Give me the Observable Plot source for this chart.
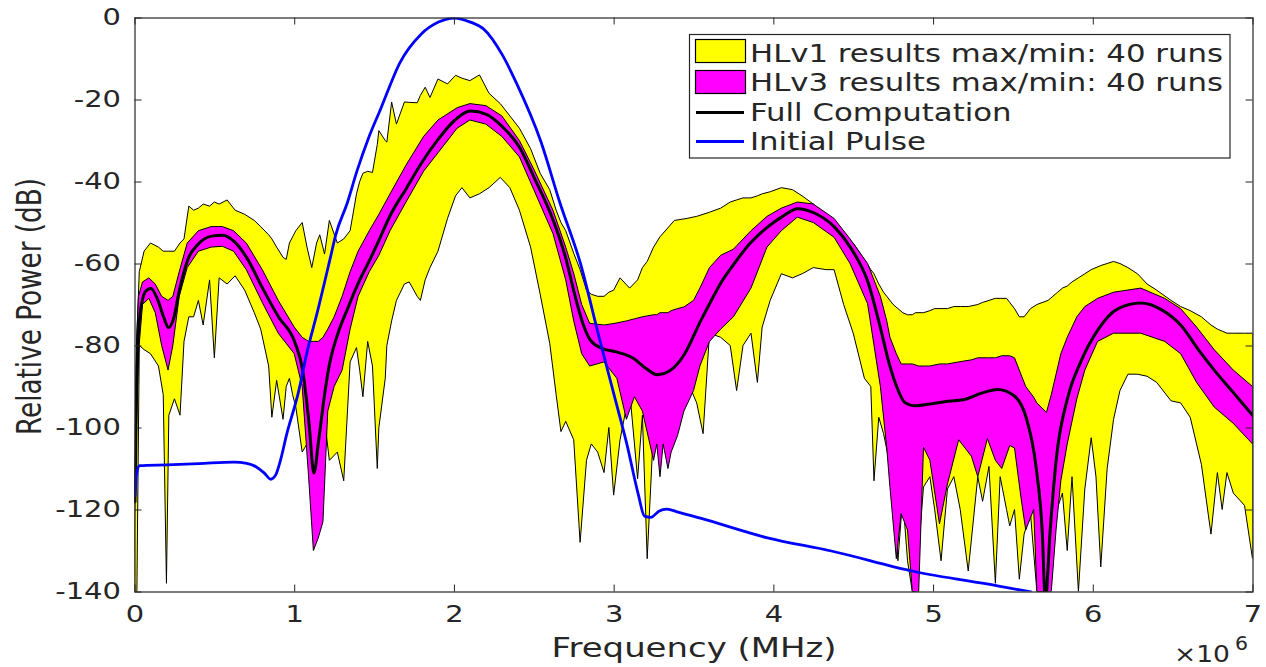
<!DOCTYPE html>
<html>
<head>
<meta charset="utf-8">
<script src="https://cdn.jsdelivr.net/npm/d3@7"></script>
<script src="https://cdn.jsdelivr.net/npm/@observablehq/plot@0.6"></script>
<style>
  html, body { margin: 0; padding: 0; background: #fff; }
  #chart { position: relative; width: 1266px; height: 667px; }
  #chart svg { display: block; }
</style>
</head>
<body>
<div id="chart"></div>
<script>
// Axis ticks and labels
const xTicks = [0, 1, 2, 3, 4, 5, 6, 7];
const yTicks = [-140, -120, -100, -80, -60, -40, -20, 0];
const xLabel = "Frequency (MHz)";
const yLabel = "Relative Power (dB)";
const xExponent = "6";
const legendLabels = [
  "HLv1 results max/min: 40 runs",
  "HLv3 results max/min: 40 runs",
  "Full Computation",
  "Initial Pulse"
];

// HLv1 envelope over 40 runs: [frequency MHz, max dB, min dB]
const hlv1Band = [
  [0.000,-125,-140],[0.015,-77,-140],[0.03,-62,-80],[0.06,-57,-81],[0.10,-55,-82],
  [0.15,-56,-85],[0.18,-57,-92],[0.20,-57,-138],[0.215,-57,-97],[0.25,-57,-93],
  [0.285,-55,-97],[0.31,-54,-79],[0.34,-46,-73],[0.37,-47,-73],[0.40,-46.5,-69],
  [0.43,-45.5,-75],[0.47,-46,-64],[0.50,-45,-83],[0.53,-45.5,-63.5],[0.58,-44.5,-65],
  [0.63,-47,-63],[0.69,-48,-66.5],[0.75,-49.5,-72],[0.79,-51,-76],[0.84,-53,-85],
  [0.86,-54,-97.5],[0.89,-56,-88.5],[0.93,-58.5,-98],[0.95,-59,-90],[0.97,-55,-88],
  [0.99,-53.5,-92],[1.01,-52,-95],[1.05,-50,-106],[1.08,-56,-104],[1.11,-61,-106],
  [1.14,-55,-106],[1.16,-53,-104],[1.19,-57.7,-98],[1.22,-49.5,-108],[1.27,-55,-106],
  [1.31,-54,-113],[1.35,-52,-84],[1.39,-43,-80.5],[1.41,-40,-86],[1.43,-38,-92.5],
  [1.46,-37.5,-79],[1.49,-37.8,-85],[1.52,-31,-110],[1.53,-27.6,-100],[1.57,-30,-88],
  [1.58,-30.4,-80],[1.61,-20.6,-74],[1.64,-26,-69],[1.69,-20.6,-65],[1.72,-20.7,-64.5],
  [1.77,-20.8,-68],[1.79,-19,-69],[1.82,-17,-64],[1.85,-19.5,-61],[1.90,-15,-57],
  [1.96,-16.2,-49],[2.01,-14.1,-43.5],[2.05,-14.8,-41.5],[2.10,-15.4,-44],[2.16,-14,-43],
  [2.22,-18.5,-41.5],[2.29,-21,-39],[2.35,-24,-41.5],[2.41,-27,-47],[2.48,-32,-56],
  [2.54,-38,-67.5],[2.60,-42,-79.5],[2.64,-47,-92],[2.67,-50,-101],[2.70,-52,-98.5],
  [2.75,-57.5,-103],[2.79,-61.5,-128],[2.83,-66.5,-108],[2.86,-67.5,-104],[2.90,-68,-106],
  [2.94,-68,-111],[2.97,-67,-100],[3.00,-66.5,-116.5],[3.04,-63.5,-103],[3.10,-66,-91],
  [3.15,-64,-112.5],[3.18,-61,-97],[3.21,-59.5,-132],[3.25,-56,-100],[3.29,-53.5,-104],
  [3.38,-49.5,-100],[3.46,-49,-88.5],[3.52,-48.5,-94],[3.56,-48,-101.5],[3.60,-47.5,-77],
  [3.67,-46.5,-78],[3.73,-45,-80],[3.77,-44.5,-91],[3.81,-44,-80],[3.86,-44,-77],
  [3.90,-43.5,-89],[3.93,-43,-75.5],[3.98,-42.5,-69],[4.05,-41.5,-62.5],[4.12,-42,-63.5],
  [4.18,-43.5,-62.5],[4.25,-45.5,-61],[4.33,-48,-61.5],[4.38,-50,-61.5],[4.44,-53,-70],
  [4.50,-55,-77],[4.57,-59,-88],[4.61,-61.5,-90],[4.63,-62.5,-113],[4.66,-65,-97.5],
  [4.69,-67,-101.5],[4.75,-70,-113],[4.78,-71,-132.5],[4.81,-72,-117],[4.84,-72.5,-132.5],
  [4.87,-72.5,-140],[4.89,-72,-140],[4.94,-72,-114.5],[4.98,-71.5,-112],[5.01,-71,-120],
  [5.05,-71,-132.5],[5.09,-71,-115],[5.13,-70.5,-112],[5.17,-70.5,-120],[5.22,-70.5,-135],
  [5.28,-70,-112],[5.31,-69.5,-118],[5.35,-69,-109.5],[5.39,-68.5,-138],[5.42,-68.5,-112],
  [5.46,-68.5,-120],[5.48,-69.5,-124],[5.51,-71,-120],[5.54,-73,-137],[5.57,-73,-126],
  [5.61,-71,-121],[5.65,-70,-140],[5.72,-69,-140],[5.75,-68,-125],[5.78,-67,-119.5],
  [5.81,-66,-116],[5.84,-65.5,-130],[5.87,-64.5,-112],[5.91,-63.5,-140],[5.95,-62.5,-115],
  [5.99,-61.5,-102.5],[6.02,-61,-112],[6.05,-60.5,-134],[6.09,-60,-110],[6.13,-59.5,-98],
  [6.17,-60,-91],[6.22,-61,-87],[6.28,-62.5,-87],[6.34,-65,-87.5],[6.40,-66.5,-89],
  [6.49,-69,-93.5],[6.55,-70.5,-94],[6.61,-71.5,-97.5],[6.68,-73,-109],[6.74,-75,-126],
  [6.78,-76,-111],[6.81,-76.5,-120],[6.84,-77,-111],[6.88,-77,-116],[6.95,-77,-119],
  [7.00,-77,-132]
];

// HLv3 envelope over 40 runs: [frequency MHz, max dB, min dB]
const hlv3Band = [
  [0.000,-118,-118],[0.012,-80,-100],[0.025,-68,-82],[0.05,-64.5,-70],[0.09,-63.5,-68.5],
  [0.13,-65,-72],[0.17,-68,-80],[0.21,-69,-86],[0.24,-68,-80],[0.28,-62,-68],
  [0.33,-55,-61],[0.40,-52,-57],[0.48,-51,-56],[0.55,-51,-55.8],[0.62,-52,-57],
  [0.70,-55,-61.5],[0.80,-61.5,-69.5],[0.90,-69,-77],[1.00,-75.5,-82],[1.05,-78,-90],
  [1.09,-79,-112],[1.12,-79,-130],[1.15,-79,-127],[1.18,-78,-123],[1.21,-76,-96],
  [1.25,-73,-90],[1.30,-68,-86],[1.35,-62,-76],[1.40,-57,-68],[1.47,-52,-62],
  [1.53,-48,-58],[1.60,-43,-52],[1.70,-36,-45],[1.81,-29,-37.5],[1.90,-25,-33],
  [2.02,-22,-27],[2.10,-21,-25],[2.20,-21.5,-26],[2.30,-24,-29],[2.41,-30,-34],
  [2.50,-37,-42],[2.62,-47,-52.7],[2.70,-56,-64],[2.75,-62.4,-74],[2.80,-70,-82],
  [2.85,-74.6,-85],[2.94,-75,-84],[3.02,-74.5,-88],[3.08,-74,-98],[3.13,-73.5,-92.5],
  [3.18,-73,-96],[3.25,-72.5,-108],[3.27,-72.5,-104],[3.29,-72,-112],[3.31,-72,-104],
  [3.34,-72,-110],[3.36,-71.5,-106],[3.40,-71,-102],[3.44,-70.6,-96],[3.50,-69,-91],
  [3.54,-66,-85],[3.60,-61,-79],[3.67,-58,-76],[3.75,-56.5,-73],[3.86,-52,-66],
  [3.96,-48.5,-56],[4.05,-46.5,-52],[4.15,-45,-48.7],[4.25,-45.5,-50],[4.38,-49,-53.6],
  [4.48,-54,-60],[4.59,-60,-69.8],[4.67,-68,-90],[4.71,-74,-105],[4.73,-78,-114.6],
  [4.77,-82,-132],[4.80,-84.5,-121],[4.84,-84.5,-125],[4.87,-84.5,-140],[4.91,-85,-140],
  [4.94,-85,-104.8],[4.98,-85,-108],[5.04,-84.5,-123.5],[5.09,-84.5,-113.8],[5.16,-84,-103],
  [5.24,-83.5,-107],[5.28,-83,-112],[5.34,-83,-102.7],[5.39,-83,-108],[5.43,-82.5,-110],
  [5.48,-82.5,-104.4],[5.51,-83,-105],[5.55,-87,-117],[5.58,-90,-125],[5.63,-92.6,-120],
  [5.65,-94,-140],[5.71,-96.3,-140],[5.74,-92,-140],[5.77,-87,-125],[5.80,-82,-113],
  [5.84,-78,-104],[5.90,-73,-93],[5.95,-70.5,-86],[6.03,-68.5,-79],[6.13,-67,-77],
  [6.30,-66,-77],[6.45,-68.5,-79],[6.55,-71,-82],[6.65,-75.5,-89],[6.76,-81,-95],
  [6.88,-86,-99],[7.00,-90,-104]
];

// Full computation: [frequency MHz, dB]
const fullComputation = [
  [0.000,-118],[0.008,-95],[0.02,-78],[0.04,-70],[0.07,-66.5],[0.10,-66],[0.14,-68.5],
  [0.18,-73],[0.21,-75.5],[0.24,-73.5],[0.28,-66],[0.33,-59],[0.40,-55],[0.48,-53.2],
  [0.55,-53],[0.62,-54.5],[0.70,-58.5],[0.80,-66],[0.90,-73],[1.00,-79],[1.05,-86],
  [1.09,-99],[1.12,-111],[1.15,-103],[1.19,-91],[1.22,-84],[1.27,-77],[1.33,-71],
  [1.40,-64.5],[1.47,-59],[1.53,-54],[1.60,-48],[1.70,-41.5],[1.80,-35],[1.90,-29.5],
  [2.00,-25],[2.10,-22.7],[2.20,-23.5],[2.30,-26.5],[2.41,-31.7],[2.50,-39],[2.62,-49.5],
  [2.70,-59],[2.75,-67],[2.80,-74],[2.85,-78.5],[2.92,-80.5],[3.02,-81.5],[3.12,-83],
  [3.20,-85.5],[3.27,-87],[3.35,-86],[3.44,-82],[3.54,-74],[3.60,-69.5],[3.67,-64.5],
  [3.75,-60],[3.85,-55],[3.96,-51],[4.05,-48.5],[4.15,-46.5],[4.25,-47.5],[4.38,-51],
  [4.48,-56],[4.59,-64.5],[4.67,-76],[4.72,-84],[4.77,-90],[4.82,-93.8],[4.88,-94.6],
  [5.00,-94],[5.09,-93.5],[5.20,-93],[5.30,-91.5],[5.40,-90.6],[5.50,-92],[5.58,-97.5],
  [5.64,-109],[5.68,-125],[5.70,-142],[5.73,-125],[5.77,-107],[5.84,-92.6],[5.92,-84],
  [6.03,-76],[6.15,-71],[6.30,-69.5],[6.42,-71],[6.55,-75],[6.66,-81],[6.76,-86],
  [6.88,-91.5],[7.00,-97]
];

// Initial pulse spectrum: [frequency MHz, dB]
const initialPulse = [
  [0.000,-116.5],[0.01,-111],[0.03,-109.2],[0.2,-109],[0.4,-108.7],[0.62,-108.3],
  [0.70,-108.6],[0.76,-109.5],[0.81,-111],[0.85,-112.5],[0.88,-111.5],[0.91,-108],
  [0.95,-101.5],[1.02,-91.8],[1.08,-81],[1.14,-72],[1.22,-59],[1.256,-53],[1.33,-45],
  [1.39,-37.3],[1.46,-29.5],[1.54,-22],[1.66,-10.8],[1.79,-4],[1.90,-1],[2.00,0],
  [2.10,-1],[2.18,-2.6],[2.30,-9],[2.39,-16],[2.54,-30],[2.66,-45],[2.79,-60],
  [2.90,-77],[3.00,-92],[3.08,-104],[3.15,-116],[3.19,-121.5],[3.23,-121.8],[3.28,-120.3],
  [3.33,-119.8],[3.40,-120.5],[3.54,-122],[3.96,-126.8],[4.36,-130],[4.88,-135],
  [5.40,-138.5],[5.61,-140]
];

const INK = "#262626";
const FONT = "DejaVu Sans";
const W = 1266, H = 667;
const M = {top: 17.5, right: 13.5, bottom: 75.5, left: 134.5};
const innerW = W - M.left - M.right;
const innerH = H - M.top - M.bottom;
const TICK = 7;
const STRETCH = 1.26; // wide lettering of the axis text

const chart = Plot.plot({
  width: W,
  height: H,
  marginTop: M.top,
  marginRight: M.right,
  marginBottom: M.bottom,
  marginLeft: M.left,
  x: {domain: [0, 7]},
  y: {domain: [-140, 0]},
  style: {fontFamily: FONT, fontSize: "23px", color: INK, background: "#fff", overflow: "visible"},
  marks: [
    Plot.areaY(hlv1Band, {x: d => d[0], y1: d => d[2], y2: d => d[1],
      fill: "#ffff00", stroke: "#000", strokeWidth: 1, clip: true}),
    Plot.areaY(hlv3Band, {x: d => d[0], y1: d => d[2], y2: d => d[1],
      fill: "#ff00ff", stroke: "#000", strokeWidth: 1, clip: true}),
    Plot.line(fullComputation, {x: d => d[0], y: d => d[1],
      stroke: "#000", strokeWidth: 3, curve: "monotone-x", clip: true}),
    Plot.line(initialPulse, {x: d => d[0], y: d => d[1],
      stroke: "#0000ff", strokeWidth: 2.8, curve: "monotone-x", clip: true}),
    Plot.frame({stroke: INK, strokeWidth: 1.2}),
    // inward ticks on all four sides
    Plot.tickX(xTicks, {x: d => d, insetTop: innerH - TICK, stroke: INK}),
    Plot.tickX(xTicks, {x: d => d, insetBottom: innerH - TICK, stroke: INK}),
    Plot.tickY(yTicks, {y: d => d, insetLeft: innerW - TICK, stroke: INK}),
    Plot.tickY(yTicks, {y: d => d, insetRight: innerW - TICK, stroke: INK}),
    Plot.axisX(xTicks, {tickSize: 0, tickPadding: 14, label: null, tickFormat: d => `${d}`}),
    Plot.axisY(yTicks, {tickSize: 0, tickPadding: 14, label: null, tickFormat: d => `${d}`})
  ]
});

document.getElementById("chart").append(chart);

// widen the tick labels
chart.querySelectorAll("text").forEach(t => {
  const w = t.getComputedTextLength();
  if (w > 0) {
    t.setAttribute("textLength", (w * STRETCH).toFixed(1));
    t.setAttribute("lengthAdjust", "spacingAndGlyphs");
  }
});

const svg = d3.select(chart);

// x axis title
svg.append("text")
  .attr("x", 551.5).attr("y", 657)
  .attr("text-anchor", "start")
  .attr("font-family", FONT).attr("font-size", 26).attr("fill", INK)
  .attr("textLength", 285).attr("lengthAdjust", "spacingAndGlyphs")
  .text(xLabel);

// y axis title
svg.append("text")
  .attr("transform", "translate(41,306.5) rotate(-90) scale(1,1.3)")
  .attr("text-anchor", "middle")
  .attr("font-family", FONT).attr("font-size", 26).attr("fill", INK)
  .attr("textLength", 257).attr("lengthAdjust", "spacingAndGlyphs")
  .text(yLabel);

// exponent of the frequency axis
svg.append("text")
  .attr("x", 1174).attr("y", 662)
  .attr("text-anchor", "start")
  .attr("font-family", FONT).attr("font-size", 23).attr("fill", INK)
  .attr("textLength", 56).attr("lengthAdjust", "spacingAndGlyphs")
  .text("\u00d710");
svg.append("text")
  .attr("x", 1235).attr("y", 650)
  .attr("text-anchor", "start")
  .attr("font-family", FONT).attr("font-size", 19).attr("fill", INK)
  .attr("textLength", 13).attr("lengthAdjust", "spacingAndGlyphs")
  .text(xExponent);

// legend
const lg = svg.append("g").attr("text-anchor", "start");
lg.append("rect")
  .attr("x", 689.5).attr("y", 34.5).attr("width", 540.5).attr("height", 123.5)
  .attr("fill", "#fff").attr("stroke", INK).attr("stroke-width", 1.2);
lg.append("rect")
  .attr("x", 695.5).attr("y", 39.5).attr("width", 50).attr("height", 23)
  .attr("fill", "#ffff00").attr("stroke", "#000").attr("stroke-width", 1.2);
lg.append("rect")
  .attr("x", 695.5).attr("y", 70.5).attr("width", 50).attr("height", 23)
  .attr("fill", "#ff00ff").attr("stroke", "#000").attr("stroke-width", 1.2);
lg.append("line")
  .attr("x1", 696).attr("x2", 744).attr("y1", 112.5).attr("y2", 112.5)
  .attr("stroke", "#000").attr("stroke-width", 3);
lg.append("line")
  .attr("x1", 696).attr("x2", 744).attr("y1", 141.5).attr("y2", 141.5)
  .attr("stroke", "#0000ff").attr("stroke-width", 2.8);

const baselines = [61.5, 91, 120.5, 150];
const legendTexts = legendLabels.map((s, i) =>
  lg.append("text")
    .attr("x", 750).attr("y", baselines[i])
    .attr("text-anchor", "start")
    .attr("font-family", FONT).attr("font-size", 25).attr("fill", INK)
    .text(s)
);
const k = 473 / legendTexts[0].node().getComputedTextLength();
legendTexts.forEach(t => {
  const w = t.node().getComputedTextLength();
  t.attr("textLength", (w * k).toFixed(1)).attr("lengthAdjust", "spacingAndGlyphs");
});
</script>
</body>
</html>
